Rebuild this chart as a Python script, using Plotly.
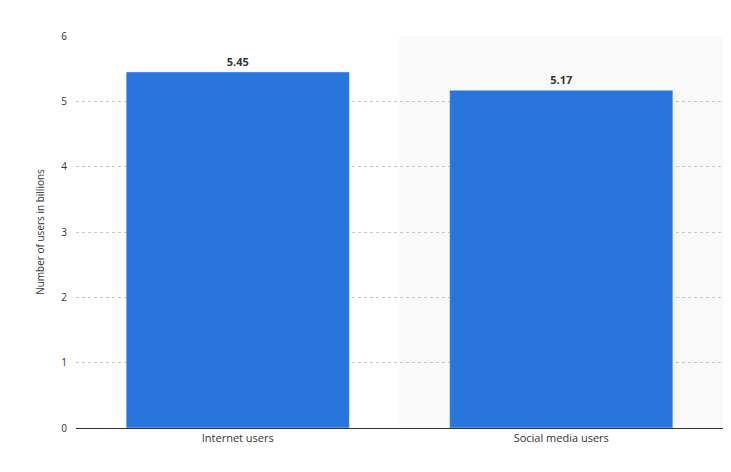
import plotly.graph_objects as go

categories = ["Internet users", "Social media users"]
values = [5.45, 5.17]
value_labels = ["5.45", "5.17"]

fig = go.Figure(go.Bar(
    x=categories, y=values, marker_color="#2876dd", width=0.69,
    text=value_labels, textposition="outside",
    textfont=dict(family="Open Sans", size=11, color="#333333"),
    texttemplate="<b>%{text}</b>", cliponaxis=False,
))
fig.add_shape(type="rect", xref="x", yref="paper", x0=0.5, x1=1.5, y0=0, y1=1,
              fillcolor="#f9f9f9", line_width=0, layer="below")
fig.update_layout(
    width=731, height=472, margin=dict(l=68, r=16, t=28, b=52),
    plot_bgcolor="white", paper_bgcolor="white", showlegend=False,
    font=dict(family="Open Sans", size=10, color="#333333"),
)
fig.update_yaxes(range=[0, 6], dtick=1, showgrid=True, gridcolor="#c8c8c8",
                 griddash="dot", zeroline=False, ticks="", ticklabelstandoff=8,
                 title=dict(text="Number of users in billions", font=dict(size=10), standoff=14),
                 tickfont=dict(size=10, color="#333333"))
fig.update_xaxes(showline=True, linecolor="#333333", linewidth=1, ticks="",
                 tickfont=dict(size=11, color="#333333"), range=[-0.5, 1.5])
fig.write_html("out.html")
